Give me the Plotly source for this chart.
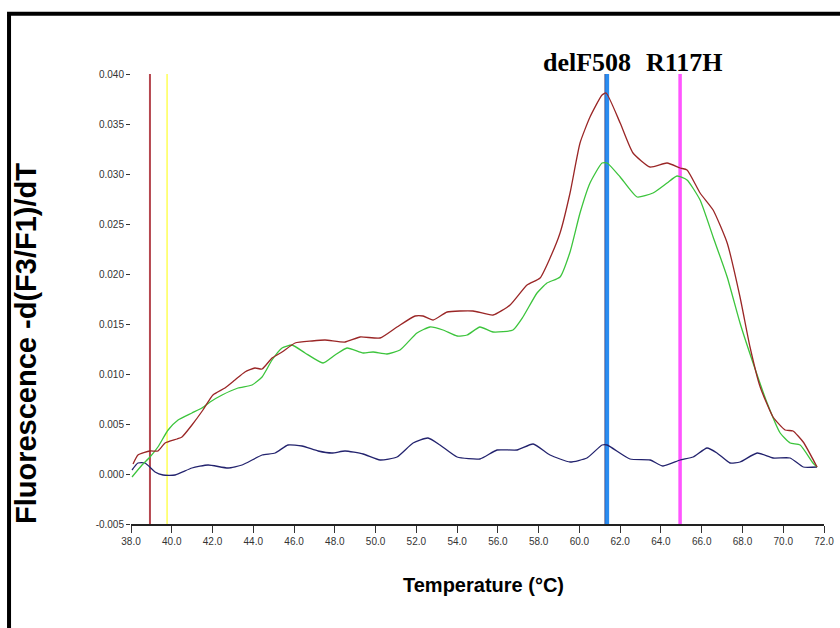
import plotly.graph_objects as go

# ---- data ----
red_t = [38.10, 38.34, 38.93, 39.32, 39.67, 40.26, 40.50, 40.99, 41.53, 42.02, 42.61, 43.10, 43.59,
         44.08, 44.43, 44.92, 45.41, 46.05, 46.88, 47.52, 48.50, 49.24, 50.22, 51.05, 51.94, 52.33,
         52.82, 53.51, 54.78, 55.76, 56.60, 57.43, 58.07, 58.56, 59.05, 59.54, 60.03, 60.52, 61.11,
         61.31, 62.00, 62.63, 63.47, 64.30, 64.94, 65.28, 65.92, 66.56, 67.25, 67.88, 68.37, 68.87,
         69.50, 70.09, 70.48, 70.98, 71.66]
red_v = [0.0010, 0.0019, 0.0023, 0.0023, 0.0031, 0.0035, 0.0037, 0.0049, 0.0064, 0.0079, 0.0086,
         0.0094, 0.0102, 0.0106, 0.0105, 0.0116, 0.0122, 0.0131, 0.0133, 0.0134, 0.0132, 0.0137,
         0.0136, 0.0147, 0.0158, 0.0158, 0.0154, 0.0162, 0.0163, 0.0159, 0.0169, 0.0189, 0.0196,
         0.0216, 0.0241, 0.0281, 0.0331, 0.0357, 0.0379, 0.0381, 0.0351, 0.0321, 0.0307, 0.0311,
         0.0306, 0.0304, 0.0281, 0.0264, 0.0231, 0.0177, 0.0127, 0.0087, 0.0057, 0.0044, 0.0043,
         0.0032, 0.0007]

green_t = [38.05, 38.54, 38.93, 39.32, 39.82, 40.31, 40.99, 41.48, 41.88, 42.47, 43.25, 43.94, 44.43,
           44.92, 45.41, 45.90, 46.54, 47.42, 48.01, 48.60, 49.39, 49.88, 50.56, 51.20, 52.03, 52.67,
           53.31, 54.00, 54.49, 55.12, 55.76, 56.74, 57.23, 57.92, 58.41, 59.05, 59.54, 60.03, 60.52,
           61.11, 61.36, 62.00, 62.83, 63.61, 64.30, 64.79, 65.28, 65.92, 66.56, 67.25, 67.88, 68.52,
           69.21, 69.85, 70.34, 70.83, 71.46, 71.66]
green_v = [-0.0003, 0.0009, 0.0017, 0.0027, 0.0044, 0.0054, 0.0061, 0.0066, 0.0072, 0.0079, 0.0086,
           0.0089, 0.0097, 0.0114, 0.0126, 0.0129, 0.0121, 0.0111, 0.0119, 0.0126, 0.0121, 0.0122,
           0.0120, 0.0124, 0.0141, 0.0147, 0.0144, 0.0138, 0.0139, 0.0147, 0.0142, 0.0144, 0.0157,
           0.0181, 0.0191, 0.0197, 0.0222, 0.0261, 0.0291, 0.0311, 0.0311, 0.0297, 0.0277, 0.0281,
           0.0291, 0.0298, 0.0294, 0.0274, 0.0237, 0.0197, 0.0151, 0.0111, 0.0071, 0.0041, 0.0031,
           0.0029, 0.0011, 0.0007]

navy_t = [38.05, 38.34, 38.69, 39.18, 39.57, 40.16, 40.99, 41.78, 42.76, 43.45, 44.43, 45.07, 45.70,
          46.39, 47.18, 47.86, 48.50, 49.39, 50.22, 51.05, 51.84, 52.57, 53.16, 54.00, 55.12, 55.96,
          56.94, 57.73, 58.56, 59.54, 60.37, 61.11, 61.36, 62.48, 63.47, 64.10, 64.94, 65.58, 66.26,
          66.75, 67.39, 67.88, 68.72, 69.50, 70.34, 70.98, 71.66]
navy_v = [0.0004, 0.0011, 0.0011, 0.0002, -0.0001, -0.0001, 0.0006, 0.0009, 0.0006, 0.0009, 0.0019,
          0.0021, 0.0029, 0.0028, 0.0023, 0.0021, 0.0023, 0.0020, 0.0014, 0.0017, 0.0031, 0.0036,
          0.0029, 0.0017, 0.0015, 0.0024, 0.0024, 0.0030, 0.0019, 0.0012, 0.0016, 0.0029, 0.0029,
          0.0015, 0.0014, 0.0008, 0.0014, 0.0017, 0.0026, 0.0021, 0.0011, 0.0012, 0.0021, 0.0016,
          0.0016, 0.0007, 0.0007]

# vertical cursor lines (temperature positions)
cursor_temps = [38.93, 39.77, 61.27, 61.36, 64.94]
cursor_colors = ["#b5474f", "#ffff55", "#1c1c5a", "#2a8cf0", "#ff55ff"]
cursor_widths = [2, 1.5, 1.5, 4, 3.5]

mut_labels = ["delF508", "R117H"]
mut_label_x = [60.37, 65.16]

x_ticks = [38.0, 40.0, 42.0, 44.0, 46.0, 48.0, 50.0, 52.0, 54.0, 56.0, 58.0, 60.0, 62.0, 64.0,
           66.0, 68.0, 70.0, 72.0]
y_ticks = [-0.005, 0.000, 0.005, 0.010, 0.015, 0.020, 0.025, 0.030, 0.035, 0.040]
y_tick_text = ["-0.005", "0.000", "0.005", "0.010", "0.015", "0.020", "0.025", "0.030", "0.035", "0.040"]

fig = go.Figure()

for t, c, w in zip(cursor_temps, cursor_colors, cursor_widths):
    fig.add_trace(go.Scatter(x=[t, t], y=[y_ticks[0], y_ticks[-1]], mode="lines",
                             line=dict(color=c, width=w), hoverinfo="skip", showlegend=False))

curve_line = dict(width=1.3, shape="spline", smoothing=0.5)
fig.add_trace(go.Scatter(x=navy_t, y=navy_v, mode="lines", line=dict(color="#23236e", **curve_line),
                         showlegend=False))
fig.add_trace(go.Scatter(x=green_t, y=green_v, mode="lines", line=dict(color="#3cc43c", **curve_line),
                         showlegend=False))
fig.add_trace(go.Scatter(x=red_t, y=red_v, mode="lines", line=dict(color="#9a2626", **curve_line),
                         showlegend=False))

tick_font = dict(family="Liberation Sans, Arial, sans-serif", size=10, color="#333333")

fig.update_layout(
    width=840, height=628,
    margin=dict(l=131, r=16, t=74, b=104),
    paper_bgcolor="white", plot_bgcolor="white",
    xaxis=dict(range=[38, 72], tickvals=x_ticks, ticktext=["%.1f" % v for v in x_ticks],
               showgrid=False, zeroline=False, showline=True, linecolor="#222222", linewidth=1.5,
               ticks="outside", ticklen=7, tickcolor="#333333", tickfont=tick_font, automargin=False),
    yaxis=dict(range=[-0.005, 0.040], tickvals=y_ticks, ticktext=y_tick_text,
               showgrid=False, zeroline=False, showline=False, automargin=False,
               ticks="outside", ticklen=4, tickcolor="#333333", tickfont=tick_font),
)

# frame
fig.add_shape(type="rect", xref="paper", yref="paper", x0=-0.176, x1=1.04, y0=-0.27, y1=1.134,
              line=dict(color="black", width=4), fillcolor="rgba(0,0,0,0)", layer="above")

for txt, xv in zip(mut_labels, mut_label_x):
    fig.add_annotation(x=xv, y=1.025, xref="x", yref="paper", text="<b>%s</b>" % txt, showarrow=False,
                       xanchor="center", yanchor="middle",
                       font=dict(family="Liberation Serif, Times New Roman, serif", size=26, color="black"))

fig.add_annotation(x=0.508, y=-0.135, xref="paper", yref="paper", text="<b>Temperature (°C)</b>",
                   showarrow=False, xanchor="center", yanchor="middle",
                   font=dict(family="Liberation Sans, Arial, sans-serif", size=20, color="black"))
fig.add_annotation(x=-0.1515, y=0.4, xref="paper", yref="paper", text="<b>Fluorescence -d(F3/F1)/dT</b>",
                   showarrow=False, textangle=-90, xanchor="center", yanchor="middle",
                   font=dict(family="Liberation Sans, Arial, sans-serif", size=29, color="black"))

fig.write_html("out.html")
